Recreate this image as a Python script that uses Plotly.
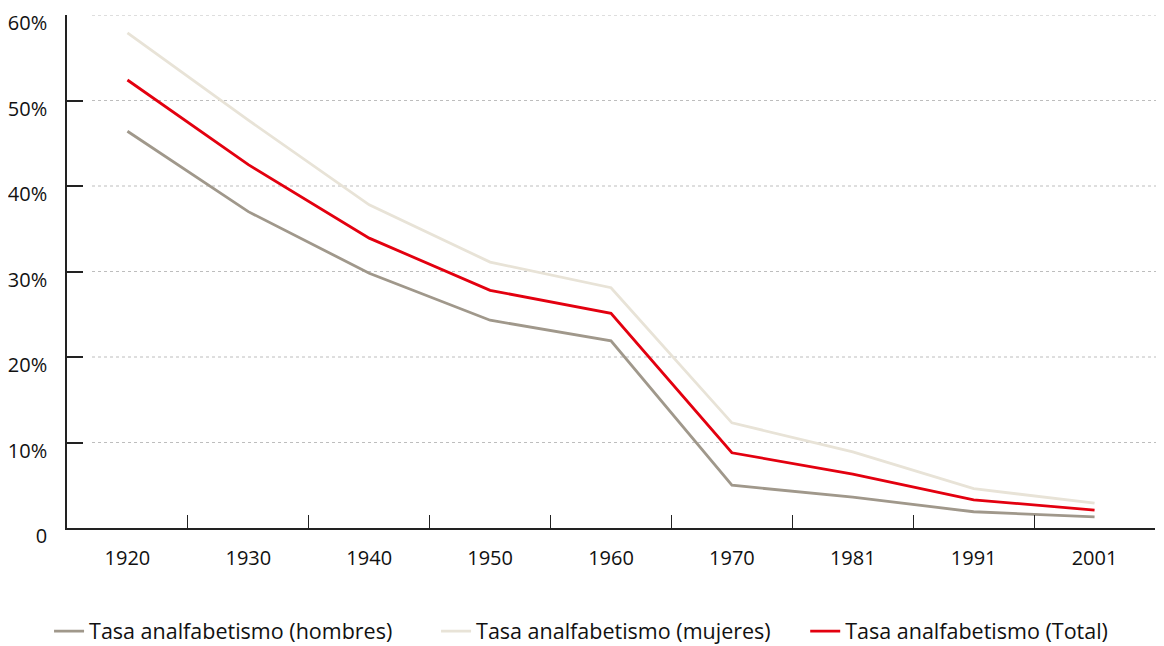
import plotly.graph_objects as go

years = ["1920", "1930", "1940", "1950", "1960", "1970", "1981", "1991", "2001"]
hombres = [46.4, 37.0, 29.8, 24.3, 21.9, 5.0, 3.6, 1.9, 1.3]
mujeres = [57.9, 47.7, 37.8, 31.1, 28.1, 12.3, 8.9, 4.6, 2.9]
total = [52.4, 42.5, 33.9, 27.8, 25.1, 8.8, 6.3, 3.3, 2.1]

y_ticks = [0, 10, 20, 30, 40, 50, 60]
y_ticktext = ["0", "10%", "20%", "30%", "40%", "50%", "60%"]

FONT = "Open Sans"

fig = go.Figure()
fig.add_trace(go.Scatter(x=years, y=hombres, mode="lines", name="Tasa analfabetismo (hombres)",
                         line=dict(color="#A0988B", width=2.8), legend="legend"))
fig.add_trace(go.Scatter(x=years, y=mujeres, mode="lines", name="Tasa analfabetismo (mujeres)",
                         line=dict(color="#E8E3D7", width=2.8), legend="legend2"))
fig.add_trace(go.Scatter(x=years, y=total, mode="lines", name="Tasa analfabetismo (Total)",
                         line=dict(color="#E3000F", width=2.8), legend="legend3"))

shapes = []
for v in y_ticks[1:]:
    shapes.append(dict(type="line", xref="paper", yref="y", x0=0.023, x1=1.003, y0=v, y1=v,
                       line=dict(color="#BDBDBD", width=1, dash="3px,3px"), layer="below"))


def leg(x):
    return dict(orientation="h", x=x, xanchor="left", y=-0.201, yanchor="middle",
                font=dict(size=21.5, family=FONT, color="#111111"), itemwidth=30,
                bgcolor="rgba(0,0,0,0)")


fig.update_layout(
    width=1156, height=638,
    margin=dict(l=59, r=9, t=7, b=118, autoexpand=False),
    paper_bgcolor="white", plot_bgcolor="white",
    font=dict(family=FONT, size=20, color="#111111"),
    showlegend=True,
    legend=leg(-0.0165),
    legend2=leg(0.3392),
    legend3=leg(0.6785),
    shapes=shapes,
    xaxis=dict(type="category", showgrid=False, showline=True, linecolor="#222222", linewidth=1.5,
               ticks="inside", ticklen=13, tickcolor="#222222", tickwidth=1, tickson="boundaries",
               ticklabelstandoff=11, tickfont=dict(size=20, family=FONT, color="#111111"),
               range=[-0.5, 8.5], fixedrange=True, automargin=False),
    yaxis=dict(range=[0, 60], tickvals=y_ticks, ticktext=y_ticktext, showgrid=False,
               showline=True, linecolor="#222222", linewidth=1.5, ticks="inside", ticklen=16,
               tickcolor="#222222", tickwidth=1.5, zeroline=False, ticklabelstandoff=14,
               ticklabelshift=8, tickfont=dict(size=20, family=FONT, color="#111111"),
               automargin=False),
)

fig.write_html("out.html")
